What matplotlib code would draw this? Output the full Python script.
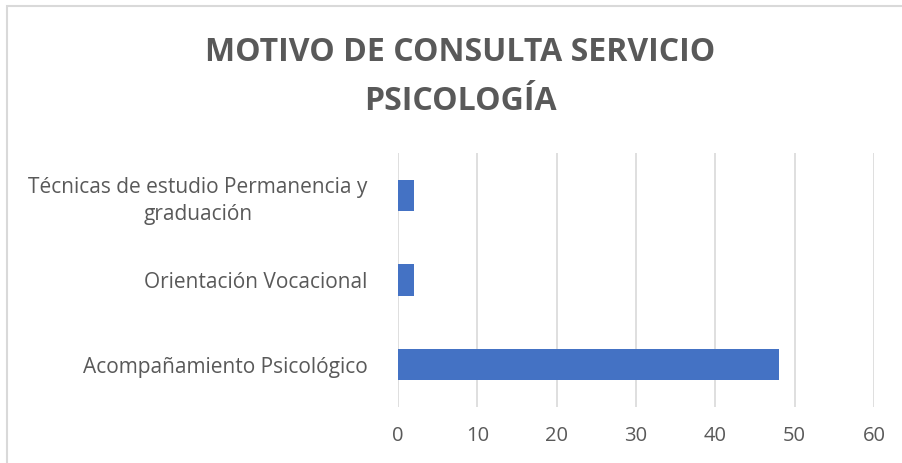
import matplotlib.pyplot as plt
from matplotlib.patches import Rectangle

categories = ["Acompañamiento Psicológico",
              "Orientación Vocacional",
              "Técnicas de estudio Permanencia y\ngraduación"]
values = [48, 2, 2]
xticks = [0, 10, 20, 30, 40, 50, 60]

text_color = "#595959"
bar_color = "#4472c4"
grid_color = "#d9d9d9"

plt.rcParams['font.family'] = ['Open Sans', 'DejaVu Sans']

fig = plt.figure(figsize=(9.02, 4.63), dpi=100)
ax = fig.add_axes([398 / 902, 56 / 463, 476 / 902, 254 / 463])

ax.barh(range(len(categories)), values, height=0.37, color=bar_color, zorder=3)
ax.set_xlim(0, 60)
ax.set_ylim(-0.5, len(categories) - 0.5)
ax.set_xticks(xticks)
ax.set_yticks(range(len(categories)))
ax.set_yticklabels(categories, multialignment="center", linespacing=1.4)
ax.tick_params(axis="x", length=0, pad=14, labelsize=14.5, labelcolor=text_color)
ax.tick_params(axis="y", length=0, pad=22, labelsize=15, labelcolor=text_color)
ax.grid(axis="x", color=grid_color, linewidth=1.2, zorder=0)
for s in ax.spines.values():
    s.set_visible(False)

fig.text(460 / 902, 1 - 77 / 463, "MOTIVO DE CONSULTA SERVICIO\nPSICOLOGÍA",
         ha="center", va="center", fontsize=23, fontweight="bold",
         color=text_color, linespacing=1.65)

# outer chart border (left and top edges visible)
fig.patches.append(Rectangle((7 / 902, -0.1), 1.2, 1 - 6 / 463 + 0.1,
                             transform=fig.transFigure, fill=False,
                             edgecolor=grid_color, linewidth=1.5))

fig.savefig("out.png", dpi=100)
